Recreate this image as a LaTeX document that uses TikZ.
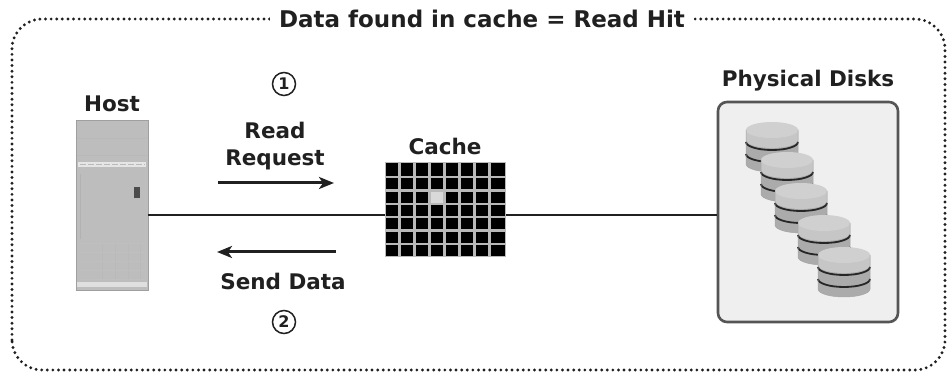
\documentclass[tikz,border=0pt]{standalone}
\usepackage{fontspec}
\setmainfont{DejaVu Sans}
\usetikzlibrary{arrows.meta,positioning}

\definecolor{ink}{HTML}{202020}
\definecolor{towergray}{HTML}{BDBDBD}
\definecolor{boxfill}{HTML}{EFEFEF}
\definecolor{boxline}{HTML}{555555}
\definecolor{diskside}{HTML}{ABABAB}
\definecolor{disktop}{HTML}{D0D0D0}

\tikzset{
  lbl/.style={font=\fontsize{21.5}{27}\selectfont\bfseries, text=ink, inner sep=0pt},
  stepnum/.style={circle, draw=ink, line width=1.5pt, minimum size=23pt, inner sep=0pt,
    font=\fontsize{16}{16}\selectfont\bfseries, text=ink},
  link/.style={draw=ink, line width=2pt},
  flow/.style={draw=ink, line width=3pt, -{Stealth[length=15pt,width=12pt,inset=4pt]}},
  cellgap/.style={draw=gray!55, line width=2.4pt},
  diskline/.style={draw=gray!30!black, line width=1.8pt}
}

\begin{document}
\begin{tikzpicture}[x=1pt, y=1pt]
\useasboundingbox (0,0) rectangle (952,379);

% dotted frame and its title
\draw[ink, line width=3.2pt, dash pattern=on 0pt off 5.6pt, line cap=round, rounded corners=30]
  (12,9) rectangle (945,360);
\node[lbl, fill=white, inner xsep=9pt, inner ysep=3pt, font=\fontsize{23}{28}\selectfont\bfseries]
  (title) at (482,360) {Data found in cache = Read Hit};

% host tower
\node[rectangle, fill=towergray, draw=gray!75, line width=0.6pt,
  minimum width=72, minimum height=170] (host) at (112,174) {};
\node[lbl, above=8pt of host] (hostlbl) {Host};
\fill[gray!20] (78,217) rectangle (146,212);
\draw[gray!55, dash pattern=on 6pt off 2pt] (80,214.5) -- (145,214.5);
\draw[gray!55, line width=0.8pt] (77,241) -- (147,241);
\draw[gray!55, line width=0.8pt] (77,224) -- (147,224);
\draw[gray!60, line width=0.6pt] (80,205) -- (80,140);
\fill[gray!60!black] (134,192) rectangle (140,181);
\foreach \vx in {102,115,128,140}
  \draw[gray!55, line width=0.6pt] (\vx,136) -- (\vx,99);
\foreach \vy in {136,127,118,109,100}
  \draw[gray!50, line width=0.4pt] (78,\vy) -- (146,\vy);
\fill[gray!25] (77,97) rectangle (147,92);

% step 1: read request
\node[stepnum] (one) at (284,295) {1};
\node[lbl, align=center] (req) at (275,233) {Read\\Request};
\coordinate (reqA) at (218,196);
\coordinate (reqB) at (334,196);
\draw[flow] (reqA) -- (reqB);

% step 2: send data
\coordinate (sendA) at (336,127);
\coordinate (sendB) at (217,127);
\draw[flow] (sendA) -- (sendB);
\node[lbl] (send) at (283,98) {Send Data};
\node[stepnum] (two) at (284,57) {2};

% cache block, 8 x 7 cells
\node[rectangle, fill=black, draw=gray!55, line width=1pt,
  minimum width=120, minimum height=94, inner sep=0pt] (cache) at (445,169) {};
\node[lbl, above=7pt of cache] (cachelbl) {Cache};
\fill[gray!30] ([shift={(45,-26.86)}]cache.north west) rectangle ++(15,-13.43);
\foreach \i in {1,...,7}
  \draw[cellgap] ([xshift=\i*15]cache.south west) -- ([xshift=\i*15]cache.north west);
\foreach \j in {1,...,6}
  \draw[cellgap] ([yshift=\j*13.43]cache.south west) -- ([yshift=\j*13.43]cache.south east);

% physical disks
\node[rectangle, rounded corners=9, fill=boxfill, draw=boxline, line width=2.6pt,
  minimum width=180, minimum height=220] (disks) at (808,167) {};
\node[lbl, above=9pt of disks] (diskslbl) {Physical Disks};
\foreach \dx/\dy in {772/249, 787/219, 801/188, 824/156, 844/124} {
  \fill[diskside] (\dx-26,\dy) -- (\dx-26,\dy-34)
    arc[start angle=180, end angle=360, x radius=26, y radius=8] -- (\dx+26,\dy) -- cycle;
  \fill[gray!45] (\dx-26,\dy-1) -- (\dx-26,\dy-10)
    arc[start angle=180, end angle=360, x radius=26, y radius=8] -- (\dx+26,\dy-1) -- cycle;
  \draw[diskline] (\dx-26,\dy-12) arc[start angle=180, end angle=360, x radius=26, y radius=8];
  \draw[diskline] (\dx-26,\dy-24) arc[start angle=180, end angle=360, x radius=26, y radius=8];
  \fill[disktop] (\dx,\dy) ellipse[x radius=26, y radius=8];
  \draw[gray!70, line width=0.5pt] (\dx-26,\dy) -- (\dx-26,\dy-34)
    arc[start angle=180, end angle=360, x radius=26, y radius=8] -- (\dx+26,\dy);
}

% bus between host, cache and disks
\coordinate (bus) at (0,164);
\draw[link] (host.east |- bus) -- (cache.west |- bus);
\draw[link] (cache.east |- bus) -- (disks.west |- bus);
\end{tikzpicture}
\end{document}
